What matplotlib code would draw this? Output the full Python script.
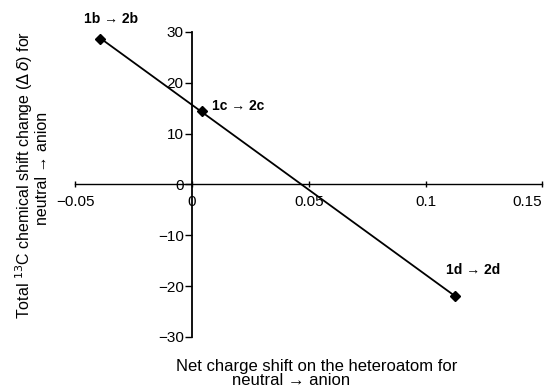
import numpy as np
import matplotlib.pyplot as plt

plt.rcParams['font.family'] = ['Liberation Sans', 'DejaVu Sans']

# net charge shift on heteroatom vs total 13C shift change
charge_shift = [-0.0395, 0.0043, 0.1125]
delta_shift = [28.7, 14.4, -22.0]
point_labels = ['1b \u2192 2b', '1c \u2192 2c', '1d \u2192 2d']

x_ticks = [-0.05, 0, 0.05, 0.1, 0.15]
x_ticklabels = ['\u22120.05', '0', '0.05', '0.1', '0.15']
y_ticks = [-30, -20, -10, 0, 10, 20, 30]
y_ticklabels = ['\u221230', '\u221220', '\u221210', '0', '10', '20', '30']

fig = plt.figure(figsize=(5.49, 3.89), dpi=100)
ax = fig.add_axes([0.137, 0.134, 0.851, 0.784])

# linear fit drawn over the range of the data
coef = np.polyfit(charge_shift, delta_shift, 1)
xfit = np.array([min(charge_shift), max(charge_shift)])
ax.plot(xfit, np.polyval(coef, xfit), color='black', lw=1.3)
ax.plot(charge_shift, delta_shift, 'D', color='black', ms=5)

offsets = [(-11.5, 14), (7, 4), (-6, 19)]
for x, y, lab, off in zip(charge_shift, delta_shift, point_labels, offsets):
    ax.annotate(lab, (x, y), xytext=off, textcoords='offset points',
                fontsize=10, fontweight='bold', ha='left', va='center')

ax.set_xlim(-0.05, 0.15)
ax.set_ylim(-30, 30)
ax.spines['left'].set_position(('data', 0))
ax.spines['bottom'].set_position(('data', 0))
ax.spines['top'].set_visible(False)
ax.spines['right'].set_visible(False)
ax.spines['left'].set_linewidth(1.3)
ax.spines['bottom'].set_linewidth(1.0)

ax.set_xticks(x_ticks)
ax.set_xticklabels(x_ticklabels)
ax.set_yticks(y_ticks)
ax.set_yticklabels(y_ticklabels)
ax.tick_params(axis='x', direction='inout', length=5, width=1, labelsize=11, pad=5)
ax.tick_params(axis='y', direction='out', length=5, width=1, labelsize=11, pad=1)
ax.get_xticklabels()[-1].set_ha('right')

fig.text(0.044, 0.55, 'Total $^{13}$C chemical shift change ($\\Delta\\,\\delta$) for',
         rotation=90, ha='center', va='center', fontsize=11.5)
fig.text(0.078, 0.566, 'neutral \u2192 anion',
         rotation=90, ha='center', va='center', fontsize=11.5)
fig.text(0.576, 0.057, 'Net charge shift on the heteroatom for',
         ha='center', va='center', fontsize=12)
fig.text(0.530, 0.021, 'neutral \u2192 anion',
         ha='center', va='center', fontsize=12)

fig.savefig('out.png', dpi=100)
